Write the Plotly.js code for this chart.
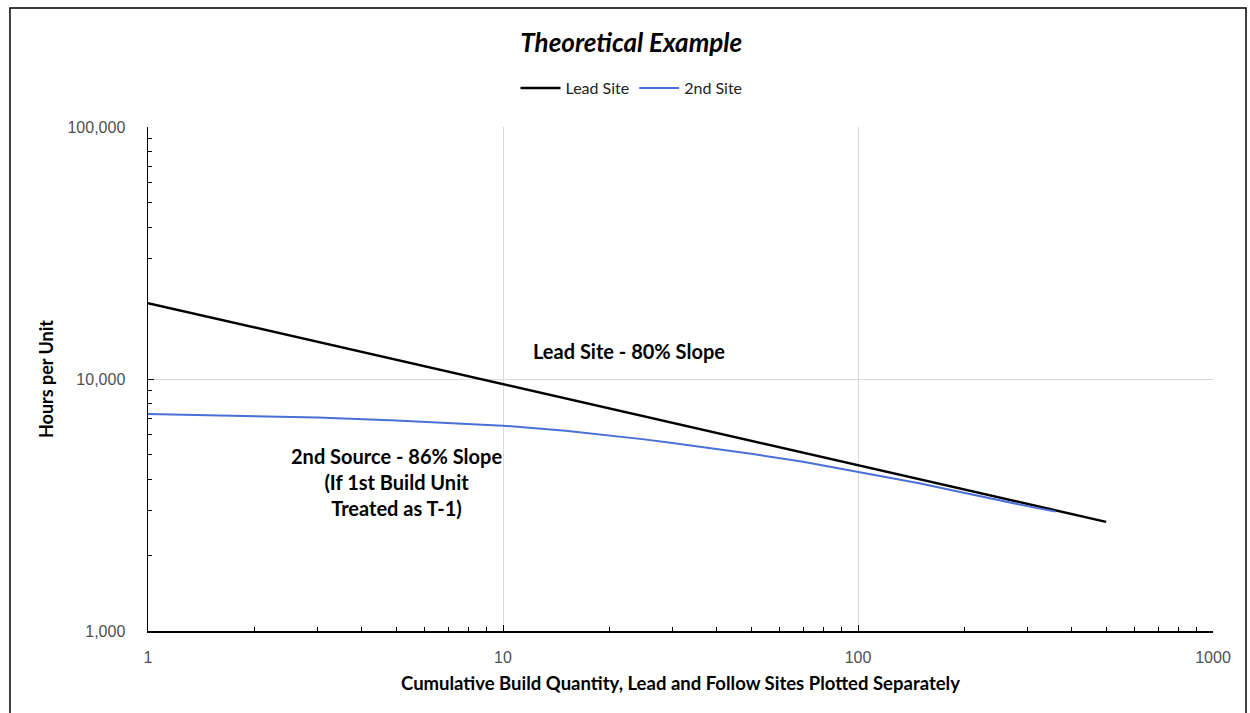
<!DOCTYPE html>
<html>
<head>
<meta charset="utf-8">
<script src="https://cdn.plot.ly/plotly-3.0.1.min.js"></script>
<style>
  html, body { margin: 0; padding: 0; background: #fff; }
  #chart { width: 1250px; height: 713px; }
</style>
</head>
<body>
<div id="chart"></div>
<script>
// Lead site (80% slope)
const leadX = [1, 2, 5, 10, 20, 50, 100, 200, 500];
const leadY = [20000, 16000, 11900, 9530, 7620, 5670, 4540, 3630, 2710];

// 2nd site (86% slope, 1st build unit treated as T-1)
const secondX = [1, 2, 3, 5, 7, 10, 15, 20, 25, 30, 40, 50, 70, 100, 150, 200, 250, 300, 360];
const secondY = [7260, 7140, 7040, 6840, 6690, 6530, 6230, 5980, 5760, 5570, 5280, 5050, 4690, 4290, 3850, 3530, 3300, 3130, 2980];

const seriesNames = ["Lead Site", "2nd Site"];
const xTickVals = [1, 10, 100, 1000];
const xTickText = ["1", "10", "100", "1000"];
const yTickVals = [1000, 10000, 100000];
const yTickText = ["1,000", "10,000", "100,000"];

const FONT = "Lato, 'Open Sans', sans-serif";
const TICKFONT = "'Liberation Sans', Arial, sans-serif";

const traces = [
  {
    x: leadX, y: leadY, name: seriesNames[0], type: "scatter", mode: "lines",
    line: { color: "#000000", width: 2.5 }
  },
  {
    x: secondX, y: secondY, name: seriesNames[1], type: "scatter", mode: "lines",
    line: { color: "#4a6fd6", width: 2 }
  }
];

const layout = {
  width: 1250, height: 713,
  margin: { l: 148, r: 37, t: 127, b: 82 },
  paper_bgcolor: "#ffffff", plot_bgcolor: "#ffffff",
  font: { family: FONT, color: "#404040", size: 13 },
  title: {
    text: "<b><i>Theoretical Example</i></b>",
    font: { family: FONT, size: 26, color: "#000000" },
    x: 0.505, xanchor: "center", y: 0.94, yanchor: "middle"
  },
  showlegend: true,
  legend: {
    orientation: "h", x: 0.454, xanchor: "center", y: 1.077, yanchor: "middle",
    font: { family: FONT, size: 16, color: "#222222" },
    itemwidth: 40, tracegroupgap: 0
  },
  xaxis: {
    type: "log", range: [0, 3],
    tickmode: "array", tickvals: xTickVals, ticktext: xTickText,
    ticks: "inside", ticklen: 6, tickwidth: 1, tickcolor: "#000",
    showline: true, linecolor: "#000", linewidth: 1.5,
    showgrid: true, gridcolor: "#d9d9d9", gridwidth: 1,
    zeroline: false,
    ticklabelstandoff: 11,
    tickfont: { family: TICKFONT, size: 16, color: "#505050" },
    minor: { ticks: "inside", ticklen: 4, tickcolor: "#000", tickwidth: 1, dtick: "D1", showgrid: false },
    title: {
      text: "<b>Cumulative Build Quantity, Lead and Follow Sites Plotted Separately</b>",
      font: { family: FONT, size: 18.5, color: "#000000" }, standoff: 12
    }
  },
  yaxis: {
    type: "log", range: [3, 5],
    tickmode: "array", tickvals: yTickVals, ticktext: yTickText,
    ticks: "inside", ticklen: 6, tickwidth: 1, tickcolor: "#000",
    showline: true, linecolor: "#000", linewidth: 1.5,
    showgrid: true, gridcolor: "#d9d9d9", gridwidth: 1,
    zeroline: false,
    ticklabelstandoff: 18,
    tickfont: { family: TICKFONT, size: 16, color: "#505050" },
    minor: { ticks: "inside", ticklen: 4, tickcolor: "#000", tickwidth: 1, dtick: "D1", showgrid: false },
    title: {
      text: "<b>Hours per Unit</b>",
      font: { family: FONT, size: 18, color: "#000000" }, standoff: 9
    }
  },
  annotations: [
    {
      text: "<b>Lead Site - 80% Slope</b>", xref: "x", yref: "y",
      x: 1.355, y: 4.111, showarrow: false,
      font: { family: FONT, size: 20, color: "#000000" }
    },
    {
      text: "<b>2nd Source - 86% Slope<br>(If 1st Build Unit<br>Treated as T-1)</b>", xref: "x", yref: "y",
      x: 0.701, y: 3.591, showarrow: false, align: "center",
      font: { family: FONT, size: 20, color: "#000000" }
    }
  ],
  shapes: [
    {
      type: "rect", xref: "paper", yref: "paper",
      x0: -0.1296, x1: 1.031, y0: -0.2, y1: 1.236,
      line: { color: "#000000", width: 1.5 }, fillcolor: "rgba(0,0,0,0)", layer: "below"
    }
  ]
};

Plotly.newPlot("chart", traces, layout, { displayModeBar: false, staticPlot: true });
</script>
</body>
</html>
